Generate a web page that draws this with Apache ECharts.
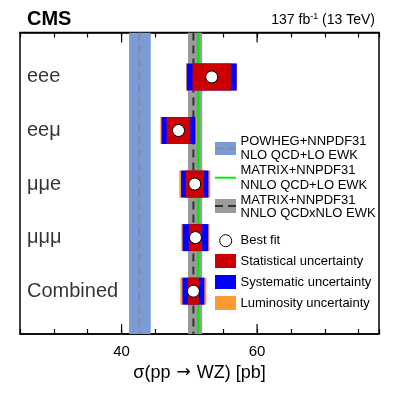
<!DOCTYPE html>
<html>
<head>
<meta charset="utf-8">
<script src="https://cdn.jsdelivr.net/npm/echarts@6/dist/echarts.min.js"></script>
<style>
html,body{margin:0;padding:0;background:#fff;}
#chart{width:399px;height:418px;}
</style>
</head>
<body>
<div id="chart"></div>
<script>
// ---- data ----
const channels = ['eee', 'eeμ', 'μμe', 'μμμ', 'Combined'];
const rowPos = [5, 4, 3, 2, 1];
const bestFit = [53.3, 48.4, 50.8, 50.9, 50.6];
const statHalf = [2.83, 1.74, 1.35, 0.98, 0.81];      // red extent
const statSystHalf = [3.69, 2.51, 2.02, 1.89, 1.62];  // blue extent
const totalHalf = [3.76, 2.68, 2.29, 2.09, 1.92];     // orange extent

const theoryCentral = [42.6, 51.3, 50.6];   // POWHEG, MATRIX NNLO QCD+LO EWK, MATRIX NNLO QCDxNLO EWK
const theoryLo = [41.1, null, 49.8];
const theoryHi = [44.3, null, 51.9];

const xMin = 25, xMax = 78;
const xMinorInterval = 5;
const xMajorTicks = [40, 60];

const FONT = "'Liberation Sans', Arial, Helvetica, sans-serif";
const RED = '#cc0000', BLUE = '#0000ff', ORANGE = '#ff9933';
const BAND_BLUE = '#7b9bd5', BAND_GRAY = '#9b9b9b', GREEN = '#00ee00';
const TICK = '#000000';

const chart = echarts.init(document.getElementById('chart'), null, {renderer: 'canvas'});

const bandData = [];
for (let i = 0; i < theoryCentral.length; i++) {
  if (theoryLo[i] !== null) bandData.push([theoryLo[i], theoryHi[i], i]);
}
const lineData = theoryCentral.map((v, i) => [v, i]);
const boxData = channels.map((c, i) => [bestFit[i], rowPos[i], statHalf[i], statSystHalf[i], totalHalf[i]]);
const labelData = channels.map((c, i) => ({value: [xMin, rowPos[i]], name: c}));
const majorTickData = [];
xMajorTicks.forEach(v => { majorTickData.push([v, 3, 0]); majorTickData.push([v, 3, 1]); });

const bandColors = [BAND_BLUE, null, BAND_GRAY];

function xAx(position, withLabels) {
  const ax = {
    type: 'value', position: position, min: xMin, max: xMax, interval: xMinorInterval,
    axisLine: {show: true, lineStyle: {color: '#000', width: 1.5}}, splitLine: {show: false},
    axisTick: {show: true, inside: true, length: 5, lineStyle: {color: TICK, width: 1.2}},
    axisLabel: {show: false}
  };
  if (withLabels) {
    ax.axisLabel = {show: true, margin: 10, fontFamily: FONT, fontSize: 15, color: '#000',
      formatter: v => xMajorTicks.indexOf(v) >= 0 ? String(v) : ''};
    ax.name = 'σ(pp {arr|→} WZ) [pb]';
    ax.nameLocation = 'middle';
    ax.nameGap = 23;
    ax.nameTextStyle = {fontFamily: FONT, fontSize: 18, color: '#000', verticalAlign: 'top',
      rich: {arr: {fontFamily: 'DejaVu Sans', fontSize: 17, color: '#000', padding: [0, 1, 0, 1]}}};
  }
  return ax;
}

const option = {
  animation: false,
  grid: {left: 20, right: 20, top: 32.5, bottom: 84, show: true, borderColor: '#000', borderWidth: 1.5},
  xAxis: [xAx('bottom', true), xAx('top', false)],
  yAxis: {type: 'value', min: 0.2, max: 5.83, axisLine: {show: false}, axisTick: {show: false}, axisLabel: {show: false}, splitLine: {show: false}},
  series: [
    {
      type: 'custom', z: 1, clip: true,
      data: bandData,
      renderItem: function (params, api) {
        const cs = params.coordSys;
        const x0 = api.coord([api.value(0), 1])[0];
        const x1 = api.coord([api.value(1), 1])[0];
        return {type: 'rect', shape: {x: x0, y: cs.y, width: x1 - x0, height: cs.height},
          style: {fill: bandColors[api.value(2)]}};
      }
    },
    {
      type: 'custom', z: 2, clip: true,
      data: lineData,
      renderItem: function (params, api) {
        const cs = params.coordSys;
        const x = api.coord([api.value(0), 1])[0];
        const k = api.value(1);
        let style;
        if (k === 0) style = {stroke: '#8a86a8', lineWidth: 2, lineDash: [8, 5]};
        else if (k === 1) style = {stroke: GREEN, lineWidth: 2.5};
        else style = {stroke: '#333333', lineWidth: 2, lineDash: [8, 5]};
        return {type: 'line', shape: {x1: x, y1: cs.y, x2: x, y2: cs.y + cs.height}, style: style};
      }
    },
    {
      type: 'custom', z: 3,
      data: boxData,
      renderItem: function (params, api) {
        const c = api.value(0);
        const pt = api.coord([c, api.value(1)]);
        const h = 27;
        const X = v => api.coord([v, 1])[0];
        const rect = (half, color) => ({type: 'rect',
          shape: {x: X(c - half), y: pt[1] - h / 2, width: X(c + half) - X(c - half), height: h},
          style: {fill: color}});
        return {type: 'group', children: [
          rect(api.value(4), ORANGE),
          rect(api.value(3), BLUE),
          rect(api.value(2), RED),
          {type: 'circle', shape: {cx: pt[0], cy: pt[1], r: 6}, style: {fill: '#fff', stroke: '#000', lineWidth: 1}}
        ]};
      }
    },
    {
      type: 'custom', z: 6,
      data: majorTickData,
      renderItem: function (params, api) {
        const cs = params.coordSys;
        const x = api.coord([api.value(0), 3])[0];
        const len = 10;
        const y = api.value(2) === 0 ? cs.y + cs.height - len : cs.y;
        return {type: 'rect', shape: {x: x - 0.6, y: y, width: 1.2, height: len}, style: {fill: TICK}};
      }
    },
    {
      type: 'scatter', z: 4, symbolSize: 0, silent: true,
      data: labelData,
      label: {show: true, position: 'right', distance: 7, formatter: p => p.name,
        fontFamily: FONT, fontSize: 20, color: '#000'}
    }
  ],
  graphic: [
    {type: 'text', left: 27, top: 9, style: {text: 'CMS', font: "bold 20px " + FONT, fill: '#000'}},
    {type: 'text', right: 24, top: 12, style: {
      text: '137 fb{sup|-1} (13 TeV)', font: "14px " + FONT, fill: '#000',
      rich: {sup: {fontSize: 9, verticalAlign: 'top', padding: [0, 0, 8, 0], fontFamily: FONT}}}},
    // legend icons
    {type: 'rect', shape: {x: 215, y: 142, width: 21, height: 13}, style: {fill: BAND_BLUE}},
    {type: 'line', shape: {x1: 215, y1: 148.5, x2: 236, y2: 148.5}, style: {stroke: '#8a86a8', lineWidth: 2, lineDash: [8, 5]}},
    {type: 'line', shape: {x1: 215, y1: 177.7, x2: 236, y2: 177.7}, style: {stroke: GREEN, lineWidth: 2}},
    {type: 'rect', shape: {x: 215, y: 199, width: 21, height: 14}, style: {fill: BAND_GRAY}},
    {type: 'line', shape: {x1: 215, y1: 206, x2: 236, y2: 206}, style: {stroke: '#333', lineWidth: 2, lineDash: [8, 5]}},
    {type: 'circle', shape: {cx: 225.7, cy: 240.7, r: 6}, style: {fill: '#fff', stroke: '#000', lineWidth: 1}},
    {type: 'rect', shape: {x: 215, y: 254, width: 21, height: 14}, style: {fill: RED}},
    {type: 'rect', shape: {x: 215, y: 275, width: 21, height: 14}, style: {fill: BLUE}},
    {type: 'rect', shape: {x: 215, y: 296, width: 21, height: 14}, style: {fill: ORANGE}},
    // legend texts
    {type: 'text', x: 240.5, y: 141.7, style: {text: 'POWHEG+NNPDF31', font: '13px ' + FONT, fill: '#000', verticalAlign: 'middle'}},
    {type: 'text', x: 240.5, y: 155.5, style: {text: 'NLO QCD+LO EWK', font: '13px ' + FONT, fill: '#000', verticalAlign: 'middle'}},
    {type: 'text', x: 240.5, y: 170.7, style: {text: 'MATRIX+NNPDF31', font: '13px ' + FONT, fill: '#000', verticalAlign: 'middle'}},
    {type: 'text', x: 240.5, y: 185, style: {text: 'NNLO QCD+LO EWK', font: '13px ' + FONT, fill: '#000', verticalAlign: 'middle'}},
    {type: 'text', x: 240.5, y: 200, style: {text: 'MATRIX+NNPDF31', font: '13px ' + FONT, fill: '#000', verticalAlign: 'middle'}},
    {type: 'text', x: 240.5, y: 213.5, style: {text: 'NNLO QCDxNLO EWK', font: '13px ' + FONT, fill: '#000', verticalAlign: 'middle'}},
    {type: 'text', x: 240.5, y: 240.7, style: {text: 'Best fit', font: '13px ' + FONT, fill: '#000', verticalAlign: 'middle'}},
    {type: 'text', x: 240.5, y: 261, style: {text: 'Statistical uncertainty', font: '13px ' + FONT, fill: '#000', verticalAlign: 'middle'}},
    {type: 'text', x: 240.5, y: 282, style: {text: 'Systematic uncertainty', font: '13px ' + FONT, fill: '#000', verticalAlign: 'middle'}},
    {type: 'text', x: 240.5, y: 303.3, style: {text: 'Luminosity uncertainty', font: '13px ' + FONT, fill: '#000', verticalAlign: 'middle'}}
  ]
};
chart.setOption(option);
</script>
</body>
</html>
